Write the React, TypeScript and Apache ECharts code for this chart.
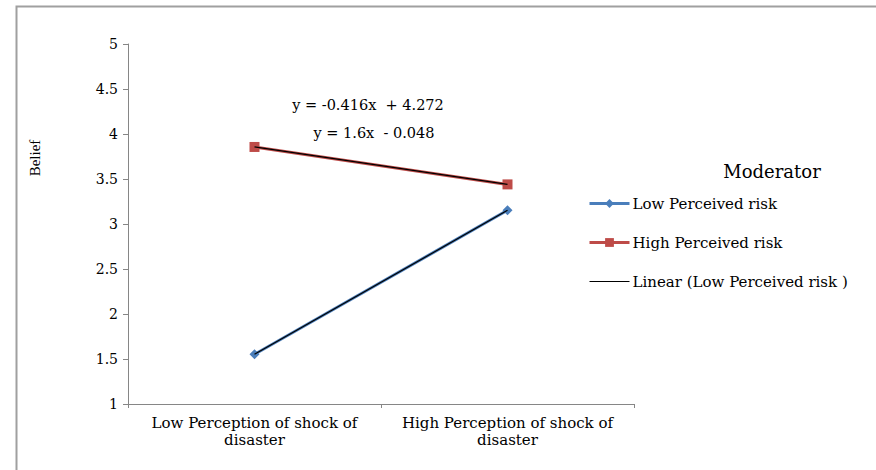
import React, { useEffect, useRef } from "react";
import * as echarts from "echarts";

const categories = ["Low Perception of shock of\ndisaster", "High Perception of shock of\ndisaster"];
const lowRisk = [1.552, 3.152];
const highRisk = [3.856, 3.44];
const lowTrend = [1.552, 3.152];
const highTrend = [3.856, 3.44];
const yTicks = { min: 1, max: 5, interval: 0.5 };
const equations = ["y = -0.416x  + 4.272", "y = 1.6x  - 0.048"];
const legendNames = ["Low Perceived risk", "High Perceived risk", "Linear (Low Perceived risk )"];

const WIDE = "'DejaVu Serif', 'Liberation Serif', serif";
const TIMES = "'Liberation Serif', 'Times New Roman', serif";

export default function App() {
  const ref = useRef<HTMLDivElement>(null);
  useEffect(() => {
    if (!ref.current) return;
    const chart = echarts.init(ref.current, null, { renderer: "svg" });
    chart.setOption({
      animation: false,
      backgroundColor: "#ffffff",
      textStyle: { fontFamily: WIDE, color: "#000" },
      grid: { left: 128, right: 242, top: 44, bottom: 66 },
      xAxis: {
        type: "category",
        data: categories,
        boundaryGap: true,
        axisLine: { lineStyle: { color: "#868686", width: 1 } },
        axisTick: { show: true, length: 4, lineStyle: { color: "#868686" } },
        axisLabel: { interval: 0, fontFamily: WIDE, fontSize: 15, color: "#000", lineHeight: 17, margin: 10 },
        splitLine: { show: false },
      },
      yAxis: {
        type: "value",
        min: yTicks.min,
        max: yTicks.max,
        interval: yTicks.interval,
        axisLine: { show: true, lineStyle: { color: "#868686", width: 1 } },
        axisTick: { show: true, length: 5, lineStyle: { color: "#868686" } },
        axisLabel: { fontFamily: WIDE, fontSize: 14, color: "#000", margin: 10 },
        splitLine: { show: false },
      },
      legend: {
        orient: "vertical",
        left: 583,
        top: 191,
        itemWidth: 40,
        itemHeight: 11,
        itemGap: 24,
        data: [
          { name: legendNames[0], lineStyle: { width: 3 } },
          { name: legendNames[1], lineStyle: { width: 3 } },
          { name: legendNames[2], itemStyle: { opacity: 0 }, lineStyle: { width: 1 } },
        ],
        textStyle: { fontFamily: WIDE, fontSize: 15, color: "#000", padding: [0, 0, 0, -2] },
      },
      graphic: [
        {
          type: "rect",
          shape: { x: 16.5, y: 6.5, width: 900, height: 500 },
          style: { fill: "none", stroke: "#a0a0a0", lineWidth: 2 },
          silent: true,
        },
        {
          type: "text",
          x: 772,
          y: 171,
          style: { text: "Moderator", fontFamily: WIDE, fontSize: 18, fill: "#000", align: "center", verticalAlign: "middle" },
        },
        {
          type: "text",
          x: 35,
          y: 158,
          rotation: Math.PI / 2,
          style: { text: "Belief", fontFamily: TIMES, fontSize: 15, fill: "#000", align: "center", verticalAlign: "middle" },
        },
        {
          type: "text",
          x: 368,
          y: 105,
          style: { text: equations[0], fontFamily: WIDE, fontSize: 14.5, fill: "#000", align: "center", verticalAlign: "middle" },
        },
        {
          type: "text",
          x: 374,
          y: 133,
          style: { text: equations[1], fontFamily: WIDE, fontSize: 14.5, fill: "#000", align: "center", verticalAlign: "middle" },
        },
      ],
      series: [
        {
          name: legendNames[0],
          type: "line",
          data: lowRisk,
          symbol: "diamond",
          symbolSize: 10,
          itemStyle: { color: "#4A7EBB" },
          lineStyle: { color: "#4A7EBB", width: 3 },
          z: 2,
        },
        {
          name: legendNames[1],
          type: "line",
          data: highRisk,
          symbol: "rect",
          symbolSize: 10,
          itemStyle: { color: "#BE4B48" },
          lineStyle: { color: "#BE4B48", width: 3 },
          z: 2,
        },
        {
          name: legendNames[2],
          type: "line",
          data: lowTrend,
          symbol: "none",
          itemStyle: { color: "#000" },
          lineStyle: { color: "#000", width: 1.2 },
          z: 3,
        },
        {
          name: "Linear (High Perceived risk )",
          type: "line",
          data: highTrend,
          symbol: "none",
          itemStyle: { color: "#000" },
          lineStyle: { color: "#000", width: 1.2 },
          z: 3,
        },
      ],
    });
    return () => chart.dispose();
  }, []);
  return (
    <div
      ref={ref}
      style={{ position: "absolute", left: 0, top: 0, width: 876, height: 470 }}
    />
  );
}
